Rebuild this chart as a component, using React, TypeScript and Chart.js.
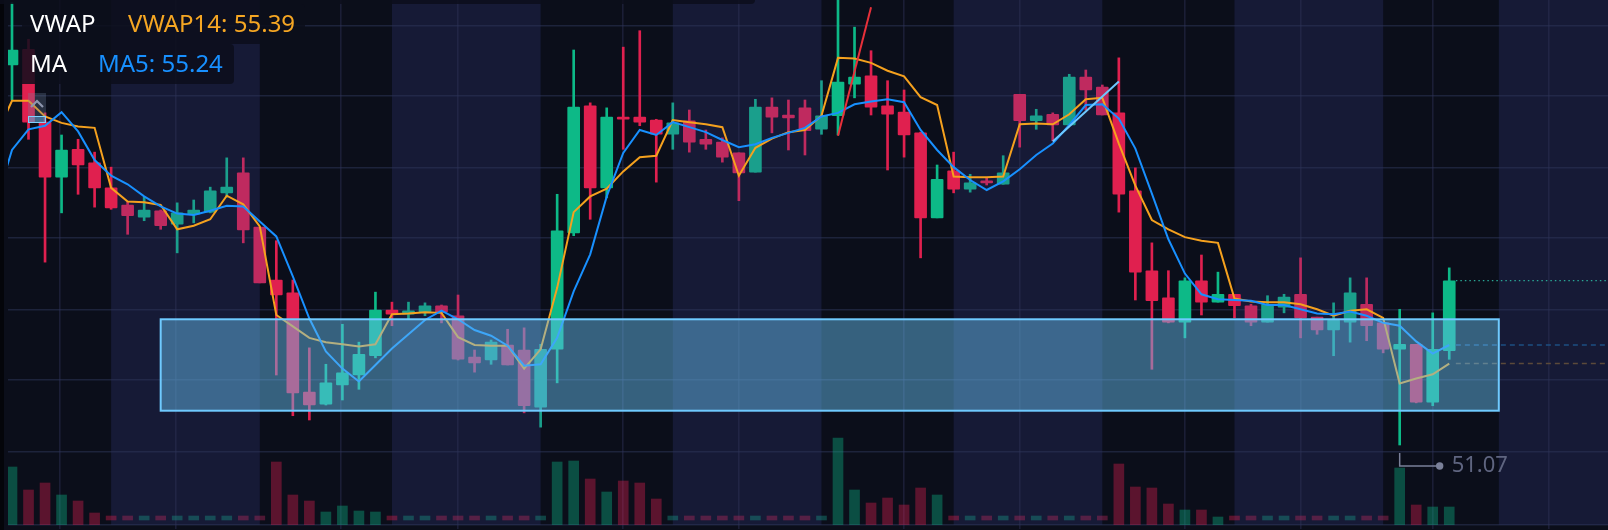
import { useEffect, useRef } from 'react';
import { Chart, registerables } from 'chart.js';

Chart.register(...registerables);

const opens = [56.39, 56.61, 55.59, 54.82, 55.21, 55.02, 54.67, 54.43, 54.26, 54.35, 54.16, 54.30, 54.33, 54.60, 54.88, 54.12, 53.38, 53.20, 51.81, 51.64, 51.91, 52.05, 52.32, 52.96, 52.90, 52.93, 53.02, 52.88, 52.30, 52.26, 52.47, 52.40, 51.60, 52.41, 54.04, 55.82, 54.67, 55.66, 55.66, 55.62, 55.42, 55.61, 55.35, 55.31, 55.16, 54.89, 55.80, 55.69, 55.79, 55.49, 55.68, 56.12, 56.24, 55.82, 55.73, 55.44, 54.25, 54.91, 54.65, 54.77, 54.72, 55.98, 55.61, 55.70, 55.55, 56.22, 56.08, 55.72, 54.63, 53.51, 53.13, 52.79, 53.37, 53.07, 53.18, 53.02, 52.79, 53.00, 53.18, 52.86, 52.68, 52.79, 53.04, 52.78, 52.41, 52.48, 51.67, 52.39];
const closes = [56.60, 55.59, 54.82, 55.20, 54.99, 54.67, 54.39, 54.28, 54.36, 54.14, 54.32, 54.36, 54.63, 54.68, 54.08, 53.34, 53.17, 51.80, 51.63, 51.94, 52.08, 52.34, 52.96, 52.90, 52.95, 53.02, 52.93, 52.27, 52.22, 52.51, 52.19, 51.62, 52.41, 54.07, 55.80, 54.67, 55.66, 55.63, 55.59, 55.42, 55.58, 55.31, 55.28, 55.10, 54.88, 55.80, 55.66, 55.65, 55.47, 55.68, 56.15, 56.22, 55.80, 55.70, 55.41, 54.25, 54.79, 54.65, 54.74, 54.74, 54.88, 55.61, 55.68, 55.55, 56.22, 56.04, 55.69, 54.58, 53.49, 53.09, 52.79, 53.37, 53.07, 53.18, 53.02, 52.79, 53.04, 53.14, 52.85, 52.68, 52.82, 53.20, 52.74, 52.41, 52.48, 51.67, 52.41, 53.37];
const highs = [57.26, 56.75, 55.72, 55.41, 55.35, 55.17, 54.96, 54.47, 54.54, 54.36, 54.46, 54.50, 54.68, 55.09, 55.09, 54.12, 53.93, 53.38, 52.43, 52.20, 52.76, 52.51, 53.21, 53.07, 53.07, 53.06, 53.03, 53.17, 52.40, 52.54, 52.69, 52.71, 52.48, 54.58, 56.60, 55.86, 55.79, 56.64, 56.87, 55.63, 55.86, 55.76, 55.48, 55.37, 55.16, 55.91, 55.93, 55.90, 55.90, 56.17, 57.30, 56.92, 56.59, 56.17, 56.04, 55.45, 54.99, 55.17, 54.86, 54.81, 55.12, 55.98, 55.77, 55.72, 56.26, 56.32, 56.11, 56.49, 54.95, 53.90, 53.51, 53.41, 53.73, 53.49, 53.18, 53.04, 53.16, 53.18, 53.69, 52.86, 53.06, 53.41, 53.41, 52.78, 52.97, 52.48, 52.92, 53.55];
const lows = [55.90, 55.35, 53.63, 54.32, 54.58, 54.40, 54.37, 54.02, 54.21, 54.09, 53.76, 54.18, 54.32, 54.54, 53.90, 53.34, 52.05, 51.48, 51.42, 51.63, 51.70, 51.85, 52.29, 52.74, 52.83, 52.88, 52.78, 52.26, 52.09, 52.20, 52.19, 51.52, 51.32, 51.94, 54.00, 54.23, 54.53, 55.21, 55.54, 54.75, 55.21, 55.17, 55.21, 55.03, 54.49, 54.89, 55.44, 55.20, 55.13, 55.42, 55.41, 55.93, 55.69, 54.92, 55.10, 53.69, 54.25, 54.60, 54.61, 54.71, 54.72, 55.24, 55.49, 55.33, 55.55, 55.76, 55.69, 54.33, 53.10, 52.13, 52.78, 52.57, 52.89, 53.07, 52.85, 52.74, 52.79, 52.92, 52.57, 52.62, 52.32, 52.51, 52.53, 52.36, 51.07, 51.66, 51.62, 52.27];
// 0 = session with no real volume, drawn as a small dash
const volumes = [58, 35, 42, 30, 24, 12, 0, 0, 0, 0, 0, 0, 0, 0, 0, 0, 63, 30, 24, 13, 19, 14, 13, 0, 0, 0, 0, 0, 0, 0, 0, 0, 0, 63, 64, 46, 33, 44, 42, 26, 0, 0, 0, 0, 0, 0, 0, 0, 0, 0, 87, 35, 22, 27, 20, 37, 30, 0, 0, 0, 0, 0, 0, 0, 0, 0, 0, 61, 38, 37, 21, 15, 15, 8, 0, 0, 0, 0, 0, 0, 0, 0, 0, 0, 57, 20, 18, 18];
// both lines start one candle before the first visible one
const vwap14 = [55.38, 55.89, 55.89, 55.67, 55.58, 55.53, 55.51, 54.67, 54.48, 54.47, 54.43, 54.09, 54.14, 54.23, 54.56, 54.44, 54.13, 52.89, 52.73, 52.57, 52.51, 52.48, 52.45, 52.48, 52.90, 52.91, 52.93, 52.92, 52.58, 52.47, 52.46, 52.46, 52.14, 52.41, 53.27, 54.33, 54.55, 54.66, 54.90, 55.10, 55.12, 55.62, 55.59, 55.56, 55.52, 54.84, 55.23, 55.36, 55.45, 55.48, 55.68, 56.49, 56.48, 56.42, 56.31, 56.23, 55.94, 55.83, 54.83, 54.82, 54.82, 54.83, 55.56, 55.57, 55.56, 55.70, 55.91, 55.93, 55.29, 54.70, 54.22, 54.09, 53.98, 53.93, 53.90, 53.12, 53.08, 53.07, 53.07, 53.04, 52.97, 52.88, 52.95, 52.97, 52.85, 51.93, 52.00, 52.06, 52.21];
const ma5 = [54.44, 55.20, 55.49, 55.54, 55.73, 55.46, 55.06, 54.84, 54.72, 54.55, 54.41, 54.31, 54.29, 54.35, 54.42, 54.41, 54.20, 53.99, 53.43, 52.84, 52.38, 52.14, 51.96, 52.19, 52.42, 52.62, 52.82, 52.95, 52.83, 52.68, 52.60, 52.46, 52.18, 52.20, 52.57, 53.22, 53.74, 54.55, 55.16, 55.48, 55.41, 55.59, 55.52, 55.45, 55.34, 55.24, 55.28, 55.37, 55.44, 55.51, 55.67, 55.72, 55.84, 55.88, 55.91, 55.87, 55.48, 55.20, 54.96, 54.78, 54.64, 54.76, 54.93, 55.13, 55.29, 55.55, 55.83, 55.84, 55.64, 55.22, 54.59, 53.95, 53.47, 53.18, 53.11, 53.10, 53.09, 53.03, 53.03, 52.97, 52.91, 52.90, 52.94, 52.88, 52.78, 52.74, 52.52, 52.35, 52.47];

const bandEdges = [6, 15, 23, 32, 40, 49, 57, 66, 74, 83, 90, 97];
const dimStarts = [7, 24, 40, 58, 75];
const dimEnds = [15, 32, 49, 66, 83];
const priceTicks = [56.94, 55.96, 54.95, 53.97, 52.96, 51.98, 50.98, 49.95];
const timeTicks = [2.9, 9.9, 19.9, 27, 37, 44, 54, 61, 71, 78, 86, 93];

const redTrend = [{ x: 50, y: 55.40 }, { x: 52, y: 57.20 }];
const blueTrend = [{ x: 63, y: 55.32 }, { x: 67, y: 56.16 }];
const zone = { start: 9, end: 90, top: 52.83, bottom: 51.55 };
const lowLabel = { index: 84, text: '51.07' };

const xMin = -0.242;
const xMax = 96.61;
const guideStart = 87.4;

const isDim = (i: number) => dimStarts.some((s, k) => i >= s && i <= dimEnds[k]);

const candleColor = (i: number) => {
  const up = closes[i] >= opens[i];
  if (isDim(i)) return up ? '#1a9f8c' : '#bf2a5f';
  return up ? '#0db987' : '#e0204f';
};

const sessionBands = {
  id: 'sessionBands',
  beforeDraw(chart: any) {
    const { ctx, width, height, scales, chartArea } = chart;
    ctx.save();
    ctx.fillStyle = '#04050a';
    ctx.fillRect(0, 0, width, height);
    ctx.fillStyle = '#0b0e1a';
    ctx.fillRect(4, 0, width - 4, height);
    ctx.fillStyle = '#161a36';
    for (let b = 0; b < bandEdges.length - 1; b += 2) {
      const x0 = scales.x.getPixelForValue(bandEdges[b]);
      const x1 = scales.x.getPixelForValue(bandEdges[b + 1]);
      ctx.fillRect(x0, chartArea.top, x1 - x0, chartArea.bottom - chartArea.top);
    }
    ctx.restore();
  },
};

const zoneBox = {
  id: 'zoneBox',
  afterDatasetsDraw(chart: any) {
    const { ctx, scales } = chart;
    const x0 = scales.x.getPixelForValue(zone.start);
    const x1 = scales.x.getPixelForValue(zone.end);
    const y0 = scales.y.getPixelForValue(zone.top);
    const y1 = scales.y.getPixelForValue(zone.bottom);
    ctx.save();
    ctx.fillStyle = 'rgba(104,192,240,0.47)';
    ctx.fillRect(x0, y0, x1 - x0, y1 - y0);
    ctx.strokeStyle = '#6fcaff';
    ctx.lineWidth = 2;
    ctx.strokeRect(x0, y0, x1 - x0, y1 - y0);

    // leader under the lowest wick
    const lx = scales.x.getPixelForValue(lowLabel.index);
    const ly = scales.y.getPixelForValue(lows[lowLabel.index]);
    ctx.strokeStyle = '#7a8099';
    ctx.lineWidth = 1.5;
    ctx.beginPath();
    ctx.moveTo(lx, ly + 8);
    ctx.lineTo(lx, ly + 21);
    ctx.lineTo(lx + 40, ly + 21);
    ctx.stroke();
    ctx.fillStyle = '#7a8099';
    ctx.beginPath();
    ctx.arc(lx + 40, ly + 21, 3.7, 0, Math.PI * 2);
    ctx.fill();
    ctx.fillStyle = '#5f6580';
    ctx.font = '22px "Noto Sans"';
    ctx.textBaseline = 'middle';
    ctx.fillText(lowLabel.text, lx + 52, ly + 21);
    ctx.restore();
  },
};

const panel = { position: 'absolute', background: 'rgba(12,14,27,0.85)' } as const;
const legendText = { position: 'absolute', fontFamily: '"Noto Sans"', fontSize: 24, lineHeight: '30px', whiteSpace: 'nowrap' } as const;

export default function App() {
  const canvasRef = useRef<HTMLCanvasElement>(null);

  useEffect(() => {
    document.body.style.margin = '0';
    if (!canvasRef.current) return;
    const idx = opens.map((_, i) => i);
    const last = idx.length - 1;
    const guide = (value: number) => [{ x: guideStart, y: value }, { x: xMax, y: value }];

    const chart = new Chart(canvasRef.current, {
      type: 'bar',
      data: {
        datasets: [
          {
            type: 'line', order: 0, data: redTrend, borderColor: '#e8303a', borderWidth: 2, pointRadius: 0,
          },
          {
            type: 'line', order: 0, data: blueTrend, borderColor: '#6dc8ff', borderWidth: 2, pointRadius: 0,
          },
          {
            type: 'line', order: 1, data: ma5.map((v, i) => ({ x: i - 1, y: v })), borderColor: '#1890ff', borderWidth: 2, pointRadius: 0,
          },
          {
            type: 'line', order: 2, data: vwap14.map((v, i) => ({ x: i - 1, y: v })), borderColor: '#f5a11e', borderWidth: 2, pointRadius: 0,
          },
          {
            type: 'line', order: 2, data: guide(closes[last]), borderColor: '#2aa695', borderWidth: 1.2, borderDash: [1.5, 3], pointRadius: 0,
          },
          {
            type: 'line', order: 2, data: guide(ma5[ma5.length - 1]), borderColor: '#1d4f82', borderWidth: 1.5, borderDash: [5, 4], pointRadius: 0,
          },
          {
            type: 'line', order: 2, data: guide(vwap14[vwap14.length - 1]), borderColor: '#5b4a3a', borderWidth: 1.5, borderDash: [5, 4], pointRadius: 0,
          },
          {
            order: 3,
            grouped: false,
            data: idx.map(i => ({ x: i, y: [opens[i], closes[i]] })),
            backgroundColor: idx.map(candleColor),
            barThickness: 12,
            minBarLength: 2,
            borderRadius: 1,
            borderSkipped: false,
          },
          {
            order: 4,
            grouped: false,
            data: idx.map(i => ({ x: i, y: [lows[i], highs[i]] })),
            backgroundColor: idx.map(candleColor),
            barThickness: 2,
          },
          {
            order: 5,
            grouped: false,
            yAxisID: 'vol',
            data: idx.map(i => ({ x: i, y: volumes[i] > 0 ? [0, volumes[i]] : [5, 9] })),
            backgroundColor: idx.map(i => candleColor(i) + '61'),
            barThickness: 10,
          },
        ] as any,
      },
      options: {
        animation: false,
        responsive: false,
        parsing: { xAxisKey: 'x', yAxisKey: 'y' },
        layout: { padding: { left: 8, top: 0, right: 0, bottom: 5 } },
        plugins: { legend: { display: false }, tooltip: { enabled: false } },
        scales: {
          x: {
            type: 'linear',
            min: xMin,
            max: xMax,
            offset: false,
            border: { display: false },
            ticks: { display: false },
            grid: { offset: false, color: 'rgba(46,52,88,0.45)', lineWidth: 1.6, tickLength: 4 },
            afterBuildTicks: (scale: any) => { scale.ticks = timeTicks.map(value => ({ value })); },
            afterFit: (scale: any) => { scale.height = 0; },
          },
          y: {
            min: 49.95,
            max: 57.30,
            border: { display: false },
            ticks: { display: false },
            grid: { color: 'rgba(46,52,88,0.55)', lineWidth: 1.6, drawTicks: false },
            afterBuildTicks: (scale: any) => { scale.ticks = priceTicks.map(value => ({ value })); },
            afterFit: (scale: any) => { scale.width = 0; },
          },
          vol: { display: false, min: 0, max: 525 },
        },
      } as any,
      plugins: [sessionBands, zoneBox],
    });

    return () => chart.destroy();
  }, []);

  return (
    <div style={{ position: 'relative', width: 1608, height: 530, overflow: 'hidden' }}>
      <canvas ref={canvasRef} width={1608} height={530} style={{ display: 'block' }} />
      <div style={{ ...panel, left: 0, top: 0, width: 755, height: 4, borderBottomRightRadius: 4 }} />
      <div style={{ ...panel, left: 22, top: 4, width: 283, height: 40, borderTopRightRadius: 4 }} />
      <div style={{ ...panel, left: 22, top: 44, width: 212, height: 40, borderBottomRightRadius: 4, borderTopRightRadius: 4 }} />
      <span style={{ ...legendText, left: 30, top: 8, color: '#ffffff' }}>VWAP</span>
      <span style={{ ...legendText, left: 128, top: 8, color: '#f5a623' }}>VWAP14: 55.39</span>
      <span style={{ ...legendText, left: 30, top: 48, color: '#ffffff' }}>MA</span>
      <span style={{ ...legendText, left: 98, top: 48, color: '#1890ff' }}>MA5: 55.24</span>
      <div style={{ position: 'absolute', left: 28, top: 93, width: 18, height: 30, background: 'rgba(110,130,155,0.3)' }}>
        <svg width="18" height="14" style={{ position: 'absolute', left: 0, top: 3 }}>
          <path d="M3 11 L9 5 L15 11" fill="none" stroke="#8e96ae" strokeWidth="2.2" />
        </svg>
        <div style={{ position: 'absolute', left: 0, top: 23, width: 18, height: 7, boxSizing: 'border-box', border: '1.5px solid #7fd0ff', background: 'rgba(90,170,220,0.5)' }} />
      </div>
    </div>
  );
}
